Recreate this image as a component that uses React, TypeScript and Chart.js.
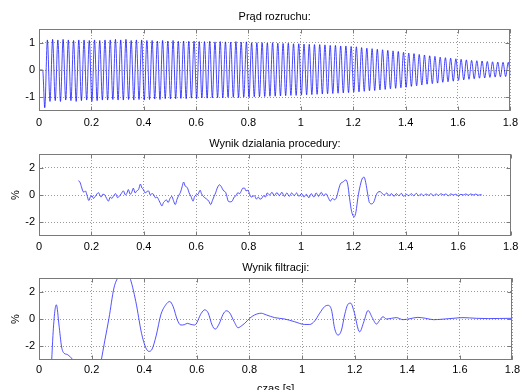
import React, { useEffect, useRef } from "react";
import { Chart, registerables } from "chart.js";

Chart.register(...registerables);

// ---------- text ----------
const topTitle = "Prąd rozruchu:";
const midTitle = "Wynik dzialania procedury:";
const lowTitle = "Wynik filtracji:";
const yLabel = "%";
const xLabel = "czas [s]";

// ---------- ticks ----------
const xTicks = [0, 0.2, 0.4, 0.6, 0.8, 1, 1.2, 1.4, 1.6, 1.8];
const topYTicks = [-1, 0, 1];
const lowYTicks = [-2, 0, 2];

// ---------- top: starting current (50 Hz, extremes read per cycle) ----------
const topLeadT = [0, 0.014];
const topLeadV = [0, 0];
const topFirstTroughT = 0.022;
const topHalfPeriod = 0.01;
const topTroughs = [
  -1.38, -1.15, -1.12, -1.15, -1.1, -1.12, -1.15, -1.12, -1.1, -1.15,
  -1.12, -1.1, -1.1, -1.08, -1.1, -1.1, -1.08, -1.1, -1.08, -1.1,
  -1.08, -1.06, -1.08, -1.05, -1.06, -1.05, -1.04, -1.05, -1.03, -1.04,
  -1.02, -1.03, -1.02, -1.01, -1.02, -1.0, -1.0, -1.01, -0.99, -1.0,
  -0.98, -0.98, -0.97, -0.96, -0.96, -0.95, -0.94, -0.93, -0.93, -0.92,
  -0.91, -0.9, -0.89, -0.88, -0.87, -0.86, -0.85, -0.84, -0.83, -0.81,
  -0.8, -0.78, -0.76, -0.75, -0.73, -0.71, -0.69, -0.67, -0.65, -0.63,
  -0.6, -0.58, -0.55, -0.52, -0.5, -0.48, -0.45, -0.43, -0.41, -0.38,
  -0.36, -0.34, -0.32, -0.3, -0.29, -0.27, -0.26, -0.25, -0.24,
];
const topPeaks = [
  1.1, 1.12, 1.1, 1.12, 1.1, 1.08, 1.1, 1.1, 1.08, 1.1,
  1.08, 1.1, 1.1, 1.12, 1.1, 1.12, 1.08, 1.1, 1.1, 1.08,
  1.08, 1.06, 1.08, 1.06, 1.08, 1.05, 1.06, 1.05, 1.06, 1.04,
  1.04, 1.05, 1.03, 1.04, 1.03, 1.02, 1.04, 1.02, 1.03, 1.0,
  1.0, 1.0, 0.99, 1.0, 0.98, 0.97, 0.98, 0.96, 0.96, 0.95,
  0.94, 0.93, 0.93, 0.92, 0.9, 0.9, 0.88, 0.88, 0.86, 0.85,
  0.82, 0.8, 0.78, 0.76, 0.74, 0.72, 0.7, 0.68, 0.65, 0.62,
  0.6, 0.57, 0.55, 0.52, 0.5, 0.47, 0.45, 0.43, 0.41, 0.39,
  0.37, 0.35, 0.34, 0.33, 0.31, 0.3, 0.29, 0.28, 0.28,
];
const topEndT = 1.8;
const topEndV = -0.2;

// ---------- middle: procedure output ----------
const midT = [
  0.15, 0.156, 0.162, 0.167, 0.172, 0.177, 0.183, 0.19, 0.196, 0.202,
  0.208, 0.215, 0.222, 0.227, 0.232, 0.237, 0.243, 0.248, 0.254, 0.258,
  0.265, 0.272, 0.278, 0.285, 0.292, 0.3, 0.308, 0.314, 0.322, 0.33,
  0.336, 0.341, 0.348, 0.354, 0.36, 0.367, 0.373, 0.38, 0.387, 0.393,
  0.399, 0.405, 0.412, 0.418, 0.425, 0.431, 0.437, 0.444, 0.45, 0.458,
  0.463, 0.469, 0.475, 0.48, 0.486, 0.493, 0.5, 0.507, 0.513, 0.52,
  0.527, 0.534, 0.54, 0.546, 0.552, 0.558, 0.563, 0.568, 0.573, 0.58,
  0.588, 0.594, 0.6, 0.607, 0.615, 0.62, 0.627, 0.633, 0.64, 0.648,
  0.655, 0.662, 0.668, 0.674, 0.68, 0.689, 0.696, 0.7, 0.705, 0.712,
  0.717, 0.722, 0.73, 0.737, 0.745, 0.752, 0.759, 0.766, 0.772, 0.778,
  0.785, 0.79, 0.797, 0.804, 0.81, 0.816, 0.822, 0.83, 0.837, 0.843,
  0.85, 0.857, 0.864, 0.871, 0.88, 0.889, 0.898, 0.908, 0.917, 0.927,
  0.936, 0.946, 0.955, 0.964, 0.974, 0.983, 0.992, 1.002, 1.011, 1.02,
  1.03, 1.039, 1.049, 1.058, 1.067, 1.077, 1.086, 1.095, 1.104, 1.112,
  1.12, 1.128, 1.136, 1.142, 1.15, 1.16, 1.171, 1.178, 1.185, 1.193,
  1.203, 1.21, 1.217, 1.226, 1.235, 1.241, 1.247, 1.255, 1.261, 1.27,
  1.278, 1.286, 1.293, 1.302, 1.31, 1.318, 1.327, 1.336, 1.345, 1.355,
  1.364, 1.373, 1.383, 1.392, 1.402, 1.411, 1.421, 1.43, 1.44, 1.449,
  1.458, 1.468, 1.477, 1.487, 1.496, 1.506, 1.515, 1.525, 1.534, 1.543,
  1.553, 1.562, 1.572, 1.581, 1.591, 1.6, 1.61, 1.619, 1.629, 1.638,
  1.648, 1.657, 1.667, 1.676, 1.686, 1.69,
];
const midV = [
  1.05, 0.95, 0.6, 0.3, 0.2, 0.3, 0.0, -0.4, -0.15, -0.05,
  -0.25, -0.1, 0.1, 0.17, 0.0, -0.15, 0.05, 0.05, -0.1, -0.25,
  -0.45, -0.15, -0.25, -0.05, 0.1, -0.2, -0.05, 0.1, 0.3, 0.0,
  0.15, 0.4, 0.05, 0.2, 0.5, 0.15, 0.3, 0.4, 0.8, 0.5,
  0.4, 0.15, 0.25, 0.3, 0.0, 0.1, 0.05, -0.2, -0.15, -0.4,
  -0.6, -0.8, -0.55, -0.45, -0.35, -0.55, -0.25, -0.1, -0.4, -0.7,
  -0.3, 0.0, 0.2, 0.6, 0.95, 0.65, 0.6, 0.45, 0.15, -0.1,
  -0.45, -0.1, 0.0, 0.05, 0.35, 0.1, -0.1, -0.2, -0.3, -0.45,
  -0.7, -0.4, -0.1, 0.15, 0.5, 0.75, 0.6, 0.45, 0.3, 0.2,
  -0.1, -0.45, -0.5, -0.45, -0.15, -0.05, 0.17, 0.1, 0.3, 0.5,
  0.5, 0.3, 0.35, 0.05, -0.15, -0.1, -0.05, -0.3, -0.15, -0.3,
  -0.25, -0.05, -0.15, 0.15, 0.0, 0.2, -0.05, 0.18, -0.05, 0.2,
  -0.1, 0.15, -0.1, 0.15, -0.05, 0.15, -0.1, 0.1, -0.15, 0.05,
  -0.2, 0.1, -0.15, 0.15, -0.1, 0.2, -0.05, 0.1, -0.2, -0.45,
  -0.25, -0.35, -0.15, 0.3, 0.8, 0.95, 1.1, 0.8, -0.2, -1.2,
  -1.6, -1.2, -0.2, 0.7, 1.25, 1.3, 0.9, 0.0, -0.55, -0.65,
  -0.5, -0.05, 0.2, 0.25, 0.1, 0.0, 0.15, -0.05, 0.1, -0.1,
  0.1, -0.05, 0.12, -0.1, 0.05, -0.05, 0.1, -0.05, 0.12, -0.05,
  0.08, -0.05, 0.08, -0.02, 0.1, -0.05, 0.08, -0.03, 0.1, 0.0,
  0.08, -0.05, 0.08, 0.0, 0.06, -0.05, 0.05, 0.0, 0.08, -0.02,
  0.08, 0.0, 0.07, -0.02, 0.03, 0.0,
];

// ---------- bottom: filtration result ----------
const lowT = [
  0.04, 0.048, 0.053, 0.06, 0.066, 0.076, 0.086, 0.095, 0.108, 0.12,
  0.13, 0.15, 0.19, 0.225, 0.236, 0.25, 0.266, 0.285, 0.302, 0.322,
  0.345, 0.368, 0.39, 0.406, 0.418, 0.43, 0.446, 0.463, 0.482, 0.497,
  0.51, 0.526, 0.539, 0.552, 0.564, 0.578, 0.592, 0.617, 0.63, 0.643,
  0.658, 0.67, 0.685, 0.7, 0.712, 0.725, 0.742, 0.757, 0.77, 0.782,
  0.801, 0.82, 0.845, 0.864, 0.896, 0.934, 0.972, 1.01, 1.029, 1.048,
  1.067, 1.086, 1.099, 1.112, 1.124, 1.137, 1.15, 1.162, 1.175, 1.185,
  1.197, 1.219, 1.235, 1.251, 1.267, 1.283, 1.295, 1.308, 1.32, 1.34,
  1.359, 1.384, 1.41, 1.44, 1.47, 1.5, 1.53, 1.574, 1.612, 1.663,
  1.71, 1.75, 1.8,
];
const lowV = [
  -6.0, -3.1, -1.2, 0.54, 1.04, -0.44, -2.05, -2.5, -2.6, -2.8,
  -3.0, -3.8, -5.0, -4.2, -3.1, -1.6, 0.05, 2.27, 3.1, 3.6,
  3.05, 1.28, -1.06, -2.1, -2.37, -2.2, -1.18, 0.3, 1.04, 1.28,
  0.91, -0.07, -0.44, -0.42, -0.32, -0.4, -0.44, 0.42, 0.67, 0.45,
  -0.44, -0.74, -0.35, 0.35, 0.6, 0.45, -0.2, -0.64, -0.5, -0.32,
  0.05, 0.3, 0.42, 0.3, 0.1, 0.0, -0.2, -0.4, -0.4, -0.15,
  0.42, 0.91, 1.0, 0.67, -0.69, -1.18, -0.81, 0.3, 1.09, 1.16,
  0.6, -0.94, -0.2, 0.62, 0.1, -0.37, -0.1, 0.17, 0.0, 0.05,
  0.1, -0.05, 0.02, 0.12, 0.05, -0.05, -0.02, 0.05, 0.1, 0.05,
  0.03, 0.04, 0.05,
];

// ---------- helpers ----------
const FONT = "'Liberation Sans', Arial, Helvetica, sans-serif";
const GRID = "rgba(120,120,120,0.75)";
const BOX = "#7a7a7a";

const boxPlugin = {
  id: "matlabBox",
  afterDraw(chart: any) {
    const { ctx, chartArea: a, scales } = chart;
    const L = Math.round(a.left) + 0.5;
    const R = Math.round(a.right) - 0.5;
    const T = Math.round(a.top) + 0.5;
    const B = Math.round(a.bottom) - 0.5;
    ctx.save();
    ctx.setLineDash([]);
    ctx.strokeStyle = BOX;
    ctx.lineWidth = 1;
    ctx.strokeRect(L, T, R - L, B - T);
    ctx.beginPath();
    const tl = 4;
    scales.x.ticks.forEach((t: any) => {
      const px = Math.round(scales.x.getPixelForValue(t.value)) + 0.5;
      ctx.moveTo(px, B);
      ctx.lineTo(px, B - tl);
      ctx.moveTo(px, T);
      ctx.lineTo(px, T + tl);
    });
    scales.y.ticks.forEach((t: any) => {
      const py = Math.round(scales.y.getPixelForValue(t.value)) + 0.5;
      ctx.moveTo(L, py);
      ctx.lineTo(L + tl, py);
      ctx.moveTo(R, py);
      ctx.lineTo(R - tl, py);
    });
    ctx.stroke();
    ctx.restore();
  },
};

type Cfg = {
  points: { x: number; y: number }[];
  lineColor: string;
  lineWidth: number;
  title: string;
  titlePad: { top: number; bottom: number };
  yMin: number;
  yMax: number;
  yTicks: number[];
  xAxisH: number;
  xTickPad: number;
  yTitle?: string;
  xTitle?: string;
  xTitlePadBottom?: number;
};

function makeChart(canvas: HTMLCanvasElement, c: Cfg) {
  const font = { family: FONT, size: 11, weight: "normal" as const };
  return new Chart(canvas, {
    type: "line",
    data: {
      datasets: [
        {
          data: c.points,
          borderColor: c.lineColor,
          borderWidth: c.lineWidth,
          pointRadius: 0,
          fill: false,
          cubicInterpolationMode: "monotone",
        },
      ],
    },
    options: {
      animation: false,
      responsive: false,
      devicePixelRatio: 1,
      events: [],
      layout: { padding: { left: 0, right: 10, top: 0, bottom: 0 } },
      plugins: {
        legend: { display: false },
        tooltip: { enabled: false },
        title: {
          display: true,
          fullSize: false,
          text: c.title,
          color: "#000",
          font,
          padding: c.titlePad,
        },
      },
      scales: {
        x: {
          type: "linear",
          min: 0,
          max: 1.8,
          afterBuildTicks: (s: any) => {
            s.ticks = xTicks.map((v) => ({ value: v }));
          },
          afterFit: (s: any) => {
            s.height = c.xAxisH;
          },
          ticks: {
            autoSkip: false,
            maxRotation: 0,
            padding: c.xTickPad,
            color: "#000",
            font,
            callback: (v: any) => String(v),
          },
          grid: { color: GRID, drawTicks: false, lineWidth: 1 },
          border: { display: false, dash: [1, 2] },
          title: c.xTitle
            ? {
                display: true,
                text: c.xTitle,
                color: "#000",
                font,
                padding: { top: 0, bottom: c.xTitlePadBottom ?? 0 },
              }
            : { display: false },
        },
        y: {
          type: "linear",
          min: c.yMin,
          max: c.yMax,
          afterBuildTicks: (s: any) => {
            s.ticks = c.yTicks.map((v) => ({ value: v }));
          },
          afterFit: (s: any) => {
            s.width = 39;
          },
          ticks: {
            padding: 4,
            color: "#000",
            font,
            callback: (v: any) => String(v),
          },
          grid: { color: GRID, drawTicks: false, lineWidth: 1 },
          border: { display: false, dash: [1, 2] },
          title: c.yTitle
            ? {
                display: true,
                text: c.yTitle,
                color: "#000",
                font,
                padding: { top: 9, bottom: 0 },
              }
            : { display: false },
        },
      },
    },
    plugins: [boxPlugin],
  } as any);
}

function buildTopPoints() {
  const pts: { x: number; y: number }[] = [];
  topLeadT.forEach((t, i) => pts.push({ x: t, y: topLeadV[i] }));
  topTroughs.forEach((v, i) => {
    const tt = topFirstTroughT + i * 2 * topHalfPeriod;
    pts.push({ x: tt, y: v });
    if (i < topPeaks.length) pts.push({ x: tt + topHalfPeriod, y: topPeaks[i] });
  });
  pts.push({ x: topEndT, y: topEndV });
  return pts;
}

export default function App() {
  const r1 = useRef<HTMLCanvasElement>(null);
  const r2 = useRef<HTMLCanvasElement>(null);
  const r3 = useRef<HTMLCanvasElement>(null);

  useEffect(() => {
    const charts: Chart[] = [];
    charts.push(
      makeChart(r1.current!, {
        points: buildTopPoints(),
        lineColor: "rgba(0,0,255,0.85)",
        lineWidth: 0.85,
        title: topTitle,
        titlePad: { top: 10, bottom: 5.8 },
        yMin: -1.5,
        yMax: 1.5,
        yTicks: topYTicks,
        xAxisH: 19,
        xTickPad: 5,
        })
    );
    charts.push(
      makeChart(r2.current!, {
        points: midT.map((t, i) => ({ x: t, y: midV[i] })),
        lineColor: "rgba(40,40,255,0.8)",
        lineWidth: 1,
        title: midTitle,
        titlePad: { top: 7, bottom: 3.8 },
        yMin: -3,
        yMax: 3,
        yTicks: lowYTicks,
        xAxisH: 24,
        xTickPad: 4.7,
        yTitle: yLabel,
      })
    );
    charts.push(
      makeChart(r3.current!, {
        points: lowT.map((t, i) => ({ x: t, y: lowV[i] })),
        lineColor: "rgba(40,40,255,0.8)",
        lineWidth: 1,
        title: lowTitle,
        titlePad: { top: 1.2, bottom: 3.6 },
        yMin: -3,
        yMax: 3,
        yTicks: lowYTicks,
        xAxisH: 36,
        xTickPad: 2.9,
        yTitle: yLabel,
        xTitle: xLabel,
        xTitlePadBottom: 0.6,
      })
    );
    return () => charts.forEach((c) => c.destroy());
  }, []);

  const cv = (top: number, h: number): React.CSSProperties => ({
    position: "absolute",
    left: 0,
    top,
    width: 523,
    height: h,
    display: "block",
  });

  return (
    <div
      style={{
        position: "fixed",
        left: 0,
        top: 0,
        width: 523,
        height: 390,
        overflow: "hidden",
        background: "#fff",
      }}
    >
      <canvas ref={r1} width={523} height={130} style={cv(0, 130)} />
      <canvas ref={r2} width={523} height={130} style={cv(130, 130)} />
      <canvas ref={r3} width={523} height={136} style={cv(260, 136)} />
    </div>
  );
}
